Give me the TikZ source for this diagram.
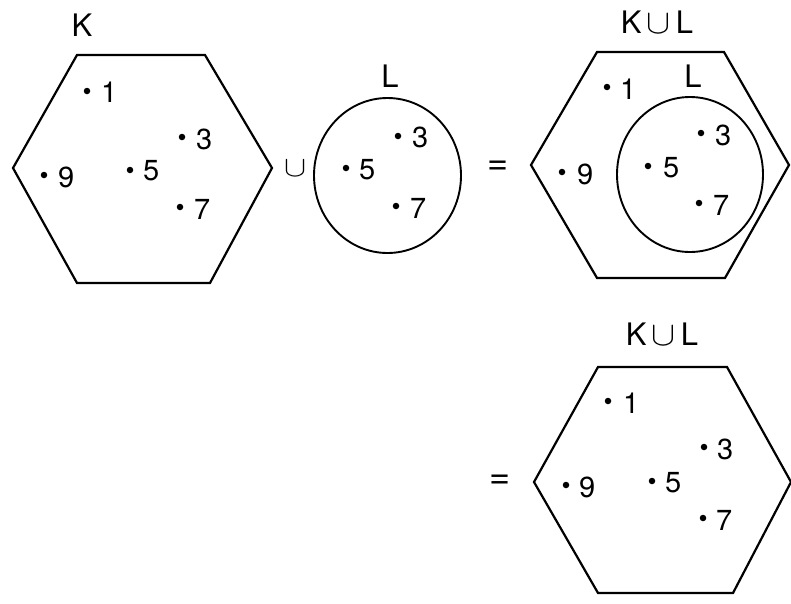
\documentclass[tikz,border=0pt]{standalone}
\usepackage{fontspec}
\usepackage{graphicx}
\setmainfont{TeX Gyre Heros}
\usetikzlibrary{shapes.geometric}
\newcommand{\bigcupsym}[2]{\resizebox{#1}{#2}{$\cup$}}
\begin{document}
\begin{tikzpicture}[x=1pt,y=-1pt,
  outline/.style={line width=2.2pt,line join=miter},
  ptdot/.style={circle,fill=black,inner sep=0pt,minimum size=6.5pt},
  num/.style={font=\fontsize{29}{32}\selectfont,inner sep=0pt,anchor=west},
  title/.style={font=\fontsize{31}{34}\selectfont,inner sep=0pt},
  eqsign/.style={font=\fontsize{36}{40}\selectfont,inner sep=0pt},
  setL/.style={draw,ellipse,line width=1.9pt,minimum width=147pt,minimum height=155pt,inner sep=0pt}]
\useasboundingbox (0,0) rectangle (791,603);
% ---- K ----
\coordinate (Ka) at (13,168);
\coordinate (Kb) at (77,55);
\coordinate (Kc) at (205,55);
\coordinate (Kd) at (272,168);
\coordinate (Ke) at (210,283);
\coordinate (Kf) at (77,283);
\draw[outline] (Ka)--(Kb)--(Kc)--(Kd)--(Ke)--(Kf)--cycle;
\node[title] (Kt) at (82,25) {K};
\node[ptdot] (k1) at (87,91) {}; \node[num] (k1l) at (101,92) {1};
\node[ptdot] (k3) at (182,137) {}; \node[num] (k3l) at (196,139) {3};
\node[ptdot] (k5) at (130,170) {}; \node[num] (k5l) at (143,171) {5};
\node[ptdot] (k9) at (44,175) {}; \node[num] (k9l) at (58,177) {9};
\node[ptdot] (k7) at (180,207) {}; \node[num] (k7l) at (194,209) {7};
% ---- union sign ----
\node[inner sep=0pt] (cup1) at (295,168) {\bigcupsym{22pt}{16pt}};
% ---- L ----
\node[setL] (L) at (387.5,175.5) {};
\node[title] (Lt) at (390,76) {L};
\node[ptdot] (l3) at (398,136) {}; \node[num] (l3l) at (412,137) {3};
\node[ptdot] (l5) at (346,168) {}; \node[num] (l5l) at (359,170) {5};
\node[ptdot] (l7) at (396,206) {}; \node[num] (l7l) at (410,208) {7};
% ---- equals ----
\node[eqsign] (eq1) at (498,168) {=};
% ---- K u L (with L) ----
\coordinate (Ma) at (531,165);
\coordinate (Mb) at (597,52);
\coordinate (Mc) at (724,52);
\coordinate (Md) at (789,165);
\coordinate (Me) at (725,278);
\coordinate (Mf) at (597,278);
\draw[outline] (Ma)--(Mb)--(Mc)--(Md)--(Me)--(Mf)--cycle;
\node[title] (Mt) at (657,22) {K\,\bigcupsym{24pt}{19pt}\,L};
\node[setL,minimum width=146pt] (ML) at (690,174.5) {};
\node[title] (MLt) at (693,76) {L};
\node[ptdot] (m1) at (607,87) {}; \node[num] (m1l) at (620,89) {1};
\node[ptdot] (m3) at (701,133) {}; \node[num] (m3l) at (715,135) {3};
\node[ptdot] (m5) at (648,166) {}; \node[num] (m5l) at (663,168) {5};
\node[ptdot] (m9) at (562,172) {}; \node[num] (m9l) at (577,174) {9};
\node[ptdot] (m7) at (699,203) {}; \node[num] (m7l) at (713,205) {7};
% ---- second equals ----
\node[eqsign] (eq2) at (500,482) {=};
% ---- K u L result ----
\coordinate (Na) at (534,482);
\coordinate (Nb) at (598,367);
\coordinate (Nc) at (727,367);
\coordinate (Nd) at (791,482);
\coordinate (Ne) at (733,593);
\coordinate (Nf) at (598,593);
\draw[outline] (Na)--(Nb)--(Nc)--(Nd)--(Ne)--(Nf)--cycle;
\node[title] (Nt) at (662,334) {K\,\bigcupsym{24pt}{19pt}\,L};
\node[ptdot] (n1) at (608,401) {}; \node[num] (n1l) at (623,403) {1};
\node[ptdot] (n3) at (704,447) {}; \node[num] (n3l) at (717,449) {3};
\node[ptdot] (n5) at (652,481) {}; \node[num] (n5l) at (665,483) {5};
\node[ptdot] (n9) at (566,485) {}; \node[num] (n9l) at (579,487) {9};
\node[ptdot] (n7) at (703,518) {}; \node[num] (n7l) at (716,520) {7};
\end{tikzpicture}
\end{document}
